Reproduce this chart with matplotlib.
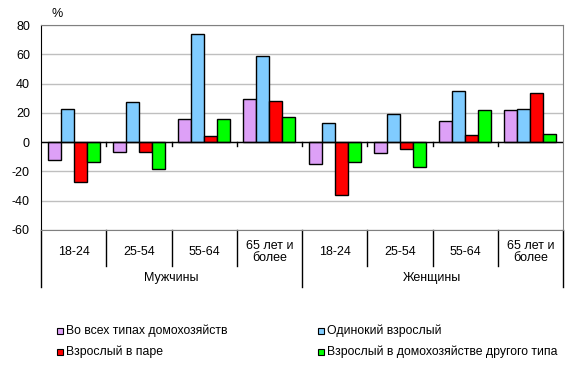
import matplotlib
matplotlib.use('Agg')
import matplotlib.pyplot as plt
import matplotlib.transforms as mtransforms
from matplotlib.patches import Rectangle
import numpy as np

plt.rcParams['font.family'] = ['Liberation Sans', 'DejaVu Sans']

# Data
age_labels = ['18-24', '25-54', '55-64', '65 лет и\nболее',
              '18-24', '25-54', '55-64', '65 лет и\nболее']
sex_labels = ['Мужчины', 'Женщины']
series_names = ['Во всех типах домохозяйств', 'Одинокий взрослый',
                'Взрослый в паре', 'Взрослый в домохозяйстве другого типа']
all_types = [-12.3, -6.8, 15.7, 29.4, -15.0, -7.5, 14.3, 21.9]
single = [22.5, 27.3, 73.8, 58.5, 13.0, 19.1, 34.8, 22.8]
couple = [-26.9, -6.4, 4.1, 28.0, -36.4, -4.8, 4.8, 33.5]
other = [-13.7, -18.4, 15.7, 17.1, -13.7, -17.1, 21.9, 5.5]
yticks = [-60, -40, -20, 0, 20, 40, 60, 80]

colors = ['#DDA0F7', '#80CCFF', '#FF0000', '#00FF00']
series = [all_types, single, couple, other]

fig = plt.figure(figsize=(5.78, 3.73), dpi=100)
ax = fig.add_axes([41 / 578, 1 - 230 / 373, (563 - 41) / 578, (230 - 25) / 373])

x = np.arange(len(age_labels))
w = 0.2
for i, (vals, c) in enumerate(zip(series, colors)):
    ax.bar(x + (i - 1.5) * w, vals, w, color=c, edgecolor='black', linewidth=1, zorder=3)

ax.set_xlim(-0.5, 7.5)
ax.set_ylim(-60, 80)
ax.set_yticks(yticks)
ax.set_yticklabels([str(t) for t in yticks], fontsize=9)
ax.tick_params(axis='y', length=0, pad=8)
ax.set_xticks([])
ax.grid(axis='y', color='#BFBFBF', linewidth=1, zorder=0)

for s in ['top', 'right', 'bottom']:
    ax.spines[s].set_color('#808080')
ax.spines['left'].set_color('black')

# zero axis with boundary ticks
ax.axhline(0, color='black', linewidth=1, zorder=4)
for b in np.arange(0.5, 7.5, 1):
    ax.plot([b, b], [0, -2.3], color='black', linewidth=1, zorder=4)

# category labels below plot
trans = mtransforms.blended_transform_factory(ax.transData, fig.transFigure)
def fy(py):
    return 1 - py / 373

for i, lab in enumerate(age_labels):
    ax.text(i, fy(252), lab, transform=trans, ha='center', va='center',
            fontsize=9, linespacing=1.0)
for b in np.arange(0.5, 7.5, 1):
    if b == 3.5:
        continue
    ax.plot([b, b], [fy(230), fy(266)], transform=trans, color='black',
            linewidth=1, clip_on=False)
for b in [-0.5, 3.5, 7.5]:
    ax.plot([b, b], [fy(230), fy(287)], transform=trans, color='black',
            linewidth=1, clip_on=False)
ax.text(1.5, fy(278), sex_labels[0], transform=trans, ha='center', va='center', fontsize=9)
ax.text(5.5, fy(278), sex_labels[1], transform=trans, ha='center', va='center', fontsize=9)

fig.text(57 / 578, fy(14), '%', ha='center', va='center', fontsize=9)

# legend
leg_pos = [(57, 331), (318, 331), (57, 352), (318, 352)]
for (px, py), name, c in zip(leg_pos, series_names, colors):
    fig.patches.append(Rectangle((px / 578, fy(py + 3)), 6 / 578, 6 / 373,
                                 transform=fig.transFigure, facecolor=c,
                                 edgecolor='black', linewidth=0.8))
    fig.text((px + 9) / 578, fy(py), name, ha='left', va='center', fontsize=8.8)

fig.savefig('out.png', dpi=100)
